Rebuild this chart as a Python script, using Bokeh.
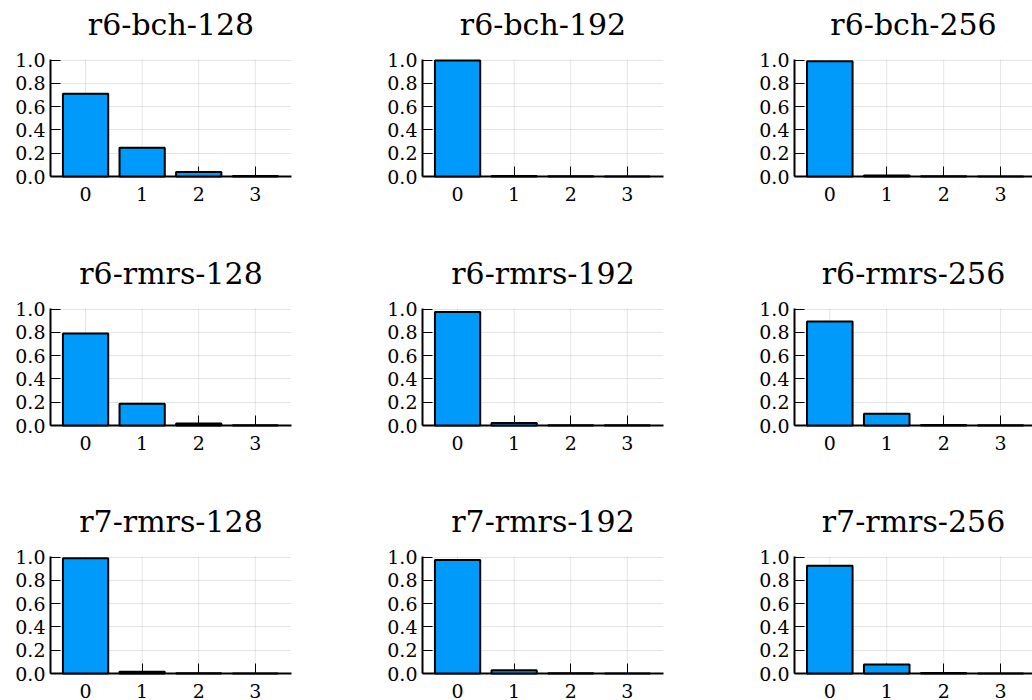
from bokeh.plotting import figure
from bokeh.layouts import column, row
from bokeh.models import Range1d, FixedTicker, NumeralTickFormatter, Label
from bokeh.embed import file_html
from bokeh.resources import INLINE

# Fraction of trials per number of errors (0..3) for each scheme
categories = [0, 1, 2, 3]

titles = [
    "r6-bch-128", "r6-bch-192", "r6-bch-256",
    "r6-rmrs-128", "r6-rmrs-192", "r6-rmrs-256",
    "r7-rmrs-128", "r7-rmrs-192", "r7-rmrs-256",
]

r6_bch_128 = [0.71, 0.246, 0.038, 0.005]
r6_bch_192 = [0.997, 0.004, 0.002, 0.001]
r6_bch_256 = [0.99, 0.009, 0.002, 0.001]
r6_rmrs_128 = [0.79, 0.187, 0.018, 0.003]
r6_rmrs_192 = [0.975, 0.022, 0.003, 0.002]
r6_rmrs_256 = [0.893, 0.1, 0.005, 0.002]
r7_rmrs_128 = [0.99, 0.016, 0.002, 0.001]
r7_rmrs_192 = [0.975, 0.027, 0.002, 0.001]
r7_rmrs_256 = [0.925, 0.077, 0.004, 0.001]

series = [
    r6_bch_128, r6_bch_192, r6_bch_256,
    r6_rmrs_128, r6_rmrs_192, r6_rmrs_256,
    r7_rmrs_128, r7_rmrs_192, r7_rmrs_256,
]

y_ticks = [0.0, 0.2, 0.4, 0.6, 0.8, 1.0]

BAR_COLOR = "#009AFA"
FONT = "DejaVu Serif"

# panel geometry (pixels)
ROW_H = [249, 248, 203]
COL_W = [372, 372, 288]
FRAME_W = [241, 241, 238]
X_START = -0.62
X_END = [3.64, 3.64, 3.56]
Y_END = 1.005          # top of the plotting area in data units
TOP = 59               # room above the plotting area, holds the title
PLOT_H = 117           # height of the 0..Y_END area
TITLE_GAP = 35         # plotting-area top to title centre


def make_panel(r, c):
    idx = r * 3 + c
    h = ROW_H[r]
    w = COL_W[c]
    # the frame reaches up to the figure top; the title lives in its upper part
    y_top = Y_END * (PLOT_H + TOP) / PLOT_H
    p = figure(
        width=w, height=h,
        x_range=Range1d(X_START, X_END[c]),
        y_range=Range1d(0, y_top),
        output_backend="svg", toolbar_location=None,
        min_border_left=50, min_border_top=0,
        min_border_right=w - 50 - FRAME_W[c],
        min_border_bottom=h - TOP - PLOT_H,
    )

    # vertical grid lines limited to the 0..Y_END area
    p.segment(x0=categories, y0=0, x1=categories, y1=Y_END,
              line_color="black", line_alpha=0.1, line_width=1)

    # bars sit above the axis ticks, which point into the frame
    bars = p.vbar(x=categories, top=series[idx], width=0.8, bottom=0,
                  fill_color=BAR_COLOR, line_color="black", line_width=2)
    bars.level = "overlay"

    p.add_layout(Label(
        x=(X_START + X_END[c]) / 2,
        y=Y_END * (1 + TITLE_GAP / PLOT_H),
        text=titles[idx],
        text_align="center", text_baseline="middle",
        text_font=FONT, text_font_size="30px", text_color="black",
    ))

    p.outline_line_color = None
    p.background_fill_color = "white"

    p.xaxis.ticker = FixedTicker(ticks=categories)
    p.yaxis.ticker = FixedTicker(ticks=y_ticks)
    p.yaxis.formatter = NumeralTickFormatter(format="0.0")
    p.yaxis.bounds = (0, Y_END)
    for ax in (p.xaxis, p.yaxis):
        ax.axis_line_color = "black"
        ax.axis_line_width = 2
        ax.major_tick_in = 10
        ax.major_tick_out = 0
        ax.major_tick_line_color = "black"
        ax.major_tick_line_width = 1
        ax.minor_tick_line_color = None
        ax.major_label_text_font = FONT
        ax.major_label_text_font_size = "19px"
        ax.major_label_text_color = "black"
    p.xaxis.major_label_standoff = 10
    p.xaxis.major_label_text_line_height = 0.7
    p.yaxis.major_label_standoff = 5

    p.xgrid.visible = False
    p.ygrid.ticker = FixedTicker(ticks=y_ticks)
    p.ygrid.grid_line_color = "black"
    p.ygrid.grid_line_alpha = 0.1
    p.ygrid.grid_line_width = 1
    return p


rows = []
for r in range(3):
    rows.append(row(*[make_panel(r, c) for c in range(3)], spacing=0))
layout = column(*rows, spacing=0)

open("out.html", "w").write(file_html(layout, INLINE))
